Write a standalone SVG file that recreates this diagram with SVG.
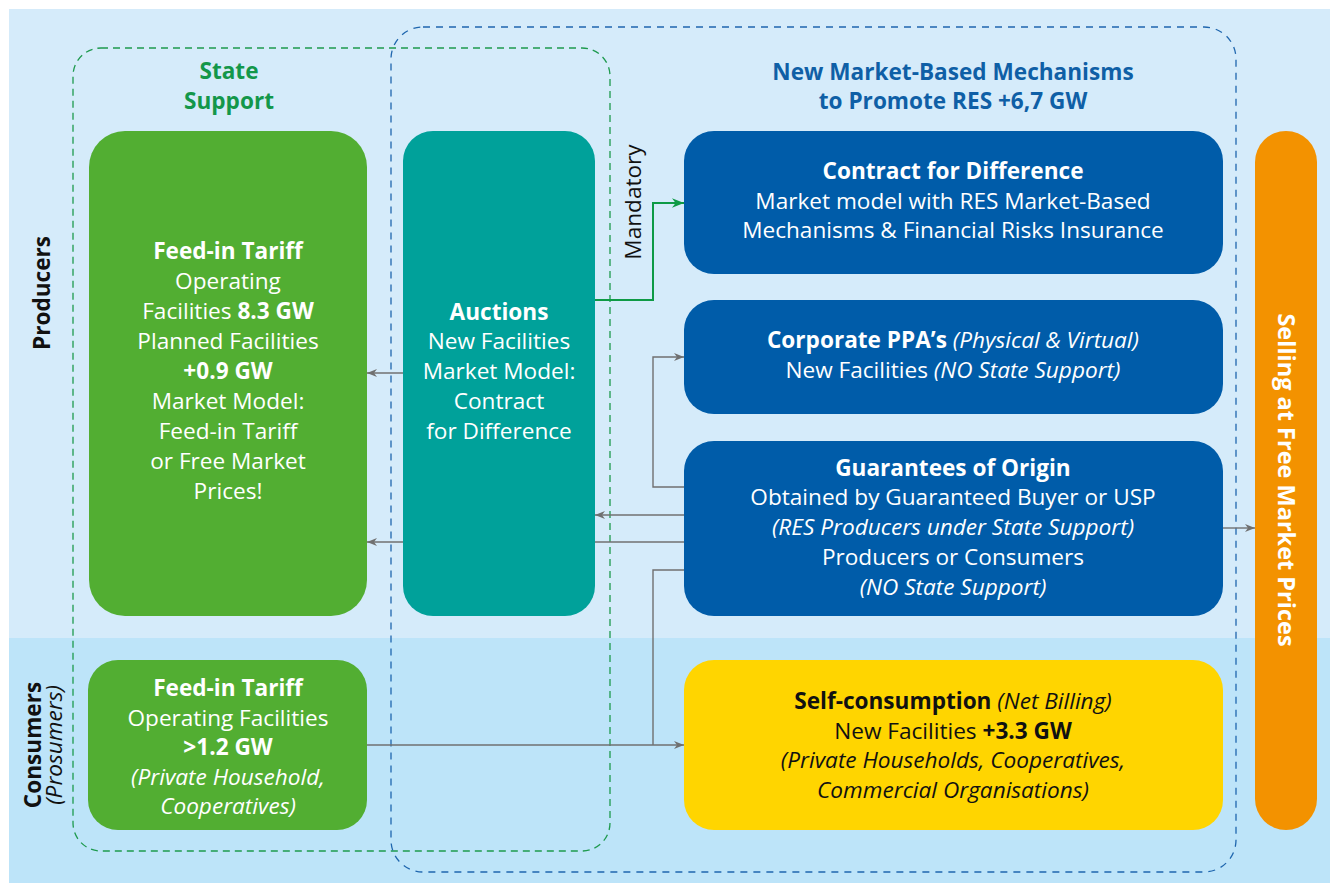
<svg xmlns="http://www.w3.org/2000/svg" width="1330" height="883" viewBox="0 0 1330 883">
  <defs>
    <style>
      text { font-family: "Open Sans", "Noto Sans", "Liberation Sans", sans-serif; font-size: 22.6px; text-anchor: middle; }
      .w { fill: #ffffff; }
      .k { fill: #111111; }
      .b { font-weight: 700; }
      .i { font-style: italic; }
      .conn { fill: none; stroke: #707070; stroke-width: 1.4; }
      .conn-g { fill: none; stroke: #0E9A45; stroke-width: 2; }
    </style>
    <marker id="ah" viewBox="0 0 10 10" refX="10" refY="5" markerWidth="10" markerHeight="10" markerUnits="userSpaceOnUse" orient="auto">
      <path d="M0,1 L10,5 L0,9 L3,5 Z" fill="#707070"/>
    </marker>
    <marker id="ah-g" viewBox="0 0 10 10" refX="10" refY="5" markerWidth="12" markerHeight="12" markerUnits="userSpaceOnUse" orient="auto">
      <path d="M0,1 L10,5 L0,9 L3,5 Z" fill="#0E9A45"/>
    </marker>
  </defs>

  <!-- background bands -->
  <rect x="0" y="0" width="1330" height="883" fill="#ffffff"/>
  <rect x="9" y="9" width="1321" height="629" fill="#D5EBFA"/>
  <rect x="9" y="638" width="1321" height="245" fill="#BDE4F9"/>

  <!-- group outlines -->
  <rect id="state-support-frame" x="73" y="48" width="537" height="803" rx="28" fill="none" stroke="#1E9A4E" stroke-width="1.3" stroke-dasharray="7 5"/>
  <rect id="market-frame" x="391" y="27" width="845" height="845" rx="32" fill="none" stroke="#1F66AE" stroke-width="1.3" stroke-dasharray="7 6"/>

  <!-- row and group labels -->
  <text class="b" x="229" y="79" fill="#13974A">State</text>
  <text class="b" x="229" y="109" fill="#13974A">Support</text>
  <text class="b" x="953" y="80" fill="#0F5FA6">New Market-Based Mechanisms</text>
  <text class="b" x="953" y="109" fill="#0F5FA6">to Promote RES +6,7 GW</text>
  <text class="b k" transform="translate(50,293) rotate(-90)">Producers</text>
  <text class="b k" transform="translate(41,745) rotate(-90)">Consumers</text>
  <text class="i k" transform="translate(62,745) rotate(-90)">(Prosumers)</text>
  <text class="k" transform="translate(641,202) rotate(-90)">Mandatory</text>

  <!-- connectors -->
  <g id="connectors">
    <path class="conn" d="M684,542 H367" marker-end="url(#ah)"/>
    <path class="conn" d="M403,373 H367" marker-end="url(#ah)"/>
    <path class="conn" d="M684,515 H595" marker-end="url(#ah)"/>
    <path class="conn" d="M684,487 H653 V357 H684" marker-end="url(#ah)"/>
    <path class="conn" d="M684,570 H653 V745"/>
    <path class="conn" d="M367,745 H684" marker-end="url(#ah)"/>
    <path class="conn" d="M1223,528 H1255" marker-end="url(#ah)"/>
    <path class="conn-g" d="M595,300 H653 V203 H684" marker-end="url(#ah-g)"/>
  </g>

  <!-- Feed-in Tariff (producers) -->
  <g id="fit-producers">
    <rect x="89" y="131" width="278" height="485" rx="36" fill="#52AE32"/>
    <text class="w b" x="228" y="259">Feed-in Tariff</text>
    <text class="w" x="228" y="289">Operating</text>
    <text class="w" x="228" y="319">Facilities <tspan class="b">8.3 GW</tspan></text>
    <text class="w" x="228" y="349">Planned Facilities</text>
    <text class="w b" x="228" y="379">+0.9 GW</text>
    <text class="w" x="228" y="409">Market Model:</text>
    <text class="w" x="228" y="439">Feed-in Tariff</text>
    <text class="w" x="228" y="469">or Free Market</text>
    <text class="w" x="228" y="499">Prices!</text>
  </g>

  <!-- Auctions -->
  <g id="auctions">
    <rect x="403" y="131" width="192" height="485" rx="30" fill="#00A19A"/>
    <text class="w b" x="499" y="320">Auctions</text>
    <text class="w" x="499" y="349">New Facilities</text>
    <text class="w" x="499" y="379">Market Model:</text>
    <text class="w" x="499" y="409">Contract</text>
    <text class="w" x="499" y="439">for Difference</text>
  </g>

  <!-- Contract for Difference -->
  <g id="cfd">
    <rect x="684" y="131" width="539" height="143" rx="30" fill="#005CA9"/>
    <text class="w b" x="953" y="179">Contract for Difference</text>
    <text class="w" x="953" y="209">Market model with RES Market-Based</text>
    <text class="w" x="953" y="238">Mechanisms &amp; Financial Risks Insurance</text>
  </g>

  <!-- Corporate PPA -->
  <g id="ppa">
    <rect x="684" y="300" width="539" height="114" rx="30" fill="#005CA9"/>
    <text class="w" x="953" y="348"><tspan class="b">Corporate PPA’s</tspan> <tspan class="i">(Physical &amp; Virtual)</tspan></text>
    <text class="w" x="953" y="378">New Facilities <tspan class="i">(NO State Support)</tspan></text>
  </g>

  <!-- Guarantees of Origin -->
  <g id="goo">
    <rect x="684" y="441" width="539" height="175" rx="30" fill="#005CA9"/>
    <text class="w b" x="953" y="476">Guarantees of Origin</text>
    <text class="w" x="953" y="505">Obtained by Guaranteed Buyer or USP</text>
    <text class="w i" x="953" y="535">(RES Producers under State Support)</text>
    <text class="w" x="953" y="565">Producers or Consumers</text>
    <text class="w i" x="953" y="595">(NO State Support)</text>
  </g>

  <!-- Feed-in Tariff (prosumers) -->
  <g id="fit-prosumers">
    <rect x="88" y="660" width="279" height="170" rx="30" fill="#52AE32"/>
    <text class="w b" x="228" y="696">Feed-in Tariff</text>
    <text class="w" x="228" y="726">Operating Facilities</text>
    <text class="w b" x="228" y="755">&gt;1.2 GW</text>
    <text class="w i" x="228" y="785">(Private Household,</text>
    <text class="w i" x="228" y="814">Cooperatives)</text>
  </g>

  <!-- Self-consumption -->
  <g id="self-consumption">
    <rect x="684" y="660" width="539" height="170" rx="30" fill="#FFD500"/>
    <text class="k" x="953" y="709"><tspan class="b">Self-consumption</tspan> <tspan class="i">(Net Billing)</tspan></text>
    <text class="k" x="953" y="739">New Facilities <tspan class="b">+3.3 GW</tspan></text>
    <text class="k i" x="953" y="768">(Private Households, Cooperatives,</text>
    <text class="k i" x="953" y="798">Commercial Organisations)</text>
  </g>

  <!-- Free market selling bar -->
  <g id="free-market">
    <rect x="1255" y="131" width="62" height="699" rx="31" fill="#F39200"/>
    <text class="w b" style="font-size:23.5px" transform="translate(1278,480) rotate(90)">Selling at Free Market Prices</text>
  </g>
</svg>
